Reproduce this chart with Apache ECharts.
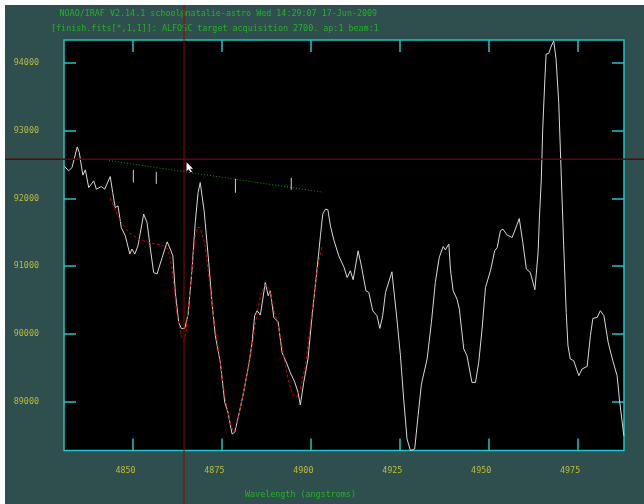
<!DOCTYPE html>
<html>
<head>
<meta charset="utf-8">
<script src="https://cdn.jsdelivr.net/npm/echarts@6/dist/echarts.min.js"></script>
<style>
  html, body { margin: 0; padding: 0; background: #fff; }
  #chart { position: absolute; left: 5px; top: 5px; width: 639px; height: 499px; }
</style>
</head>
<body>
<div id="chart"></div>
<script>
// spectrum (wavelength in angstroms, flux)
const wave = [4830.8, 4831.9, 4832.85, 4834.3, 4834.9, 4835.9, 4836.6, 4837.55, 4838.95, 4839.7,
  4841.1, 4842.05, 4843.6, 4844.3, 4845.0, 4845.8, 4846.7, 4847.85, 4849.1, 4849.7,
  4850.5, 4851.4, 4853.0, 4853.95, 4854.9, 4855.8, 4856.75, 4858.2, 4859.6, 4860.5,
  4861.2, 4861.9, 4862.85, 4863.6, 4864.55, 4865.5, 4866.6, 4867.5, 4868.3, 4868.9,
  4870.0, 4870.3, 4871.3, 4872.2, 4873.15, 4874.55, 4875.8, 4876.7, 4877.85, 4878.6,
  4879.9, 4881.1, 4882.5, 4883.5, 4884.2, 4884.9, 4885.8, 4886.5, 4887.2, 4888.0,
  4888.6, 4889.6, 4890.8, 4891.9, 4893.3, 4894.2, 4895.5, 4896.4, 4897.05, 4898.0,
  4899.2, 4900.35, 4901.75, 4902.7, 4903.35, 4904.1, 4904.8, 4905.5, 4906.4, 4907.85,
  4909.35, 4910.2, 4911.1, 4911.9, 4913.3, 4914.2, 4915.5, 4916.3, 4917.4, 4918.6,
  4919.4, 4920.2, 4921.0, 4922.8, 4923.3, 4924.2, 4925.2, 4926.1, 4927.05, 4928.0,
  4929.2, 4930.15, 4931.1, 4932.7, 4933.9, 4935.0, 4936.1, 4937.2, 4937.8, 4938.8,
  4939.25, 4940.0, 4941.1, 4941.75, 4943.0, 4943.9, 4945.3, 4946.3, 4947.2, 4948.15,
  4949.1, 4950.5, 4951.7, 4952.4, 4953.3, 4954.0, 4955.2, 4956.6, 4957.5, 4958.6,
  4959.6, 4960.6, 4961.7, 4963.0, 4963.9, 4964.25, 4964.8, 4965.2, 4965.8, 4966.15,
  4966.9, 4967.6, 4968.3, 4968.95, 4969.7, 4970.35, 4971.1, 4971.8, 4972.3, 4972.95,
  4973.9, 4975.35, 4976.25, 4977.7, 4978.6, 4979.3, 4980.5, 4981.4, 4982.4, 4983.6,
  4984.9, 4986.1, 4986.75, 4988.0]
const flux = [92470, 92405, 92453, 92758, 92674, 92342, 92420, 92159, 92258, 92135,
  92174, 92135, 92321, 92085, 91864, 91889, 91570, 91448, 91178, 91252,
  91178, 91300, 91767, 91644, 91252, 90907, 90884, 91128, 91359, 91252,
  91153, 90613, 90171, 90082, 90082, 90294, 90957, 91644, 92085, 92233,
  91816, 91644, 91054, 90465, 89975, 89582, 88992, 88845, 88527, 88551,
  88845, 89140, 89533, 89876, 90269, 90343, 90280, 90515, 90760, 90564,
  90638, 90244, 90181, 89729, 89558, 89434, 89287, 89140, 88954, 89287,
  89632, 90269, 90957, 91448, 91767, 91841, 91831, 91595, 91399, 91153,
  90981, 90833, 90932, 90800, 91227, 91006, 90638, 90613, 90343, 90269,
  90082, 90269, 90613, 90917, 90898, 90221, 89680, 89043, 88453, 88281,
  88306, 88797, 89263, 89632, 90171, 90760, 91128, 91290, 91241, 91325,
  90957, 90638, 90515, 90368, 89779, 89680, 89287, 89287, 89582, 90074,
  90686, 90932, 91227, 91275, 91521, 91546, 91458, 91423, 91546, 91702,
  91349, 90957, 90907, 90652, 91202, 91694, 92283, 93019, 93756, 94124,
  94138, 94246, 94320, 94050, 93411, 92430, 91300, 90318, 89827, 89632,
  89607, 89386, 89484, 89523, 89975, 90230, 90244, 90343, 90269, 89876,
  89607, 89386, 89043, 88502]

// fitted profile (red dashed)
const fitWave = [4843.6, 4845.0, 4846.4, 4848.8, 4851.6, 4854.4, 4858.2, 4859.85, 4861.0, 4862.4,
  4863.6, 4864.3, 4864.9, 4865.65, 4866.8, 4867.5, 4868.3, 4868.9, 4869.4, 4870.3,
  4871.7, 4873.15, 4874.55, 4875.95, 4877.4, 4878.3, 4879.7, 4881.6, 4883.5, 4884.9,
  4886.1, 4887.2, 4888.2, 4889.6, 4891.0, 4892.4, 4893.6, 4894.7, 4895.9, 4897.05,
  4898.45, 4899.85, 4901.3, 4902.2, 4903.15]
const fitFlux = [92003, 91831, 91669, 91496, 91399, 91349, 91311, 91252, 90957, 90269,
  89975, 89901, 90023, 90465, 91054, 91448, 91570, 91570, 91546, 91300,
  90663, 90074, 89582, 89043, 88674, 88551, 88797, 89287, 89827, 90318,
  90613, 90722, 90686, 90368, 90074, 89680, 89337, 89116, 89066, 89190,
  89533, 90122, 90760, 91054, 91300]

// continuum (green dotted)
const contWave = [4843.25, 4903.4]
const contFlux = [92557, 92091]

// line position marks
const markWave = [4850.1, 4856.55, 4878.8, 4894.5]
const markTop = [92420, 92390, 92287, 92302]
const markBottom = [92233, 92213, 92081, 92125]

// cursor
const cursorWave = 4864.35
const cursorFlux = 92577

const xTicks = [4850, 4875, 4900, 4925, 4950, 4975]
const yTicks = [89000, 90000, 91000, 92000, 93000, 94000]
const X_MIN = 4830.6
const X_MAX = 4988.05
const Y_MIN = 88283
const Y_MAX = 94334

const CYAN = '#18c8c8'
const LABEL = '#bcbc3c'
const GREEN = '#22b422'
const MONO = '"DejaVu Sans Mono", "Liberation Mono", monospace'

const zip = (a, b) => a.map((v, i) => [v, b[i]])
const markData = []
markWave.forEach((w, i) => {
  markData.push([w, markTop[i]], [w, markBottom[i]], '-')
})

function axisX (pos) {
  return {
    type: 'value',
    position: pos,
    min: X_MIN,
    max: X_MAX,
    axisLine: { show: false },
    splitLine: { show: false },
    axisTick: { inside: true, length: 12, customValues: xTicks, lineStyle: { color: CYAN, width: 1.5 } },
    axisLabel: pos === 'bottom'
      ? { customValues: xTicks, formatter: v => String(v), color: LABEL, fontFamily: MONO, fontSize: 8.4, margin: 16, padding: [0, 15, 0, 0] }
      : { show: false }
  }
}
function axisY (pos) {
  return {
    type: 'value',
    position: pos,
    min: Y_MIN,
    max: Y_MAX,
    axisLine: { show: false },
    splitLine: { show: false },
    axisTick: { inside: true, length: 12, customValues: yTicks, lineStyle: { color: CYAN, width: 1.5 } },
    axisLabel: pos === 'left'
      ? { customValues: yTicks, formatter: v => String(v), color: LABEL, fontFamily: MONO, fontSize: 8.4, margin: 25, padding: [10, 0, 0, 0] }
      : { show: false }
  }
}

const chart = echarts.init(document.getElementById('chart'))
const option = {
  animation: false,
  backgroundColor: '#2f4f4f',
  grid: {
    left: 59, top: 35, width: 560, height: 410.5,
    show: true, backgroundColor: '#000', borderColor: CYAN, borderWidth: 1.5
  },
  xAxis: [axisX('bottom'), axisX('top')],
  yAxis: [axisY('left'), axisY('right')],
  series: [
    {
      type: 'line', data: zip(contWave, contFlux), symbol: 'none',
      lineStyle: { color: '#00a000', width: 1, type: [1, 2] }
    },
    {
      type: 'line', data: markData, symbol: 'none', connectNulls: false,
      lineStyle: { color: '#d0d0d0', width: 1 }
    },
    {
      type: 'line', data: zip(wave, flux), symbol: 'none',
      lineStyle: { color: '#d8d8d8', width: 1 }
    },
    {
      type: 'line', data: zip(fitWave, fitFlux), symbol: 'none', z: 3,
      lineStyle: { color: '#c80000', width: 1, type: [3, 2] }
    }
  ],
  graphic: [
    { type: 'text', left: 54.5, top: 4.5, style: { text: 'NOAO/IRAF V2.14.1 school@natalie-astro Wed 14:29:07 17-Jun-2009', fill: GREEN, font: '8.4px ' + MONO } },
    { type: 'text', left: 46, top: 20, style: { text: '[finish.fits[*,1,1]]: ALFOSC target acquisition 2700. ap:1 beam:1', fill: GREEN, font: '8.4px ' + MONO } },
    { type: 'text', left: 240, top: 486, style: { text: 'Wavelength (angstroms)', fill: GREEN, font: '8.4px ' + MONO } }
  ]
}
chart.setOption(option)

// cursor crosshair across the whole window
const c = chart.convertToPixel({ xAxisIndex: 0, yAxisIndex: 0 }, [cursorWave, cursorFlux])
const w = chart.getWidth()
const h = chart.getHeight()
chart.setOption({
  graphic: option.graphic.concat([
    { type: 'line', z: 100, shape: { x1: 0, y1: c[1], x2: w, y2: c[1] }, style: { stroke: '#700000', lineWidth: 1.5 } },
    { type: 'line', z: 100, shape: { x1: c[0], y1: 0, x2: c[0], y2: h }, style: { stroke: '#960000', lineWidth: 1 } },
    {
      type: 'polygon', z: 101, x: c[0] + 2.5, y: c[1] + 3,
      shape: { points: [[0, 0], [0, 9], [2, 7], [4, 10], [5.5, 9.5], [3.5, 6.5], [6.5, 6.5]] },
      style: { fill: '#ffffff' }
    }
  ])
})
</script>
</body>
</html>
